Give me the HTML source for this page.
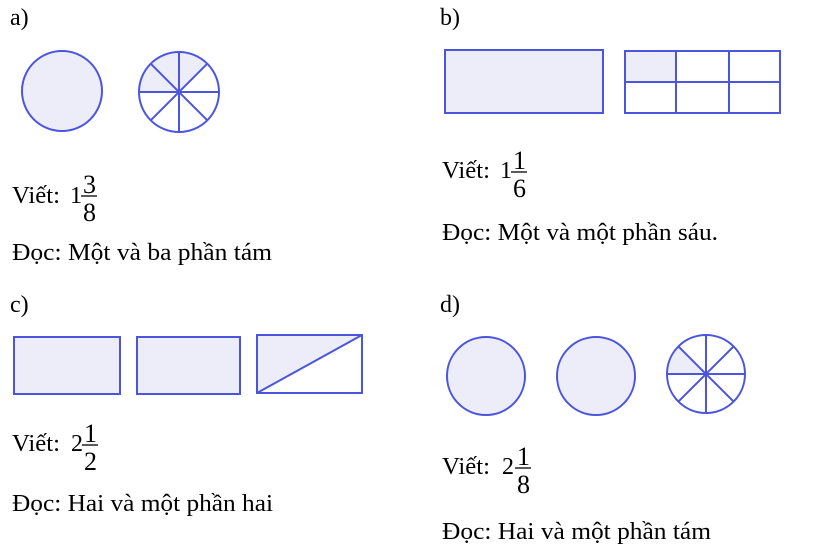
<!DOCTYPE html>
<html><head><meta charset="utf-8"><style>html,body{margin:0;padding:0;background:#fff}svg{display:block}text{font-family:"Liberation Serif",serif;font-size:24px;fill:#000}</style></head>
<body>
<svg width="840" height="551" viewBox="0 0 840 551" xmlns="http://www.w3.org/2000/svg">
<g stroke="#4b55de" stroke-width="2" fill="none">
<circle cx="62" cy="91" r="40" fill="#ededfa"/>
<path d="M179 92 L139 92 A40 40 0 0 1 207.3 63.7 Z" fill="#ededfa" stroke="none"/>
<circle cx="179" cy="92" r="40"/>
<line x1="139" y1="92" x2="219" y2="92"/><line x1="179" y1="52" x2="179" y2="132"/>
<line x1="150.7" y1="63.7" x2="207.3" y2="120.3"/><line x1="207.3" y1="63.7" x2="150.7" y2="120.3"/>
<rect x="445" y="50" width="158" height="63" fill="#ededfa"/>
<rect x="625" y="51" width="51" height="31" fill="#ededfa" stroke="none"/>
<rect x="625" y="51" width="155" height="62"/>
<line x1="676" y1="51" x2="676" y2="113"/><line x1="729" y1="51" x2="729" y2="113"/>
<line x1="625" y1="82" x2="780" y2="82"/>
<rect x="14" y="337" width="106" height="57" fill="#ededfa"/>
<rect x="137" y="337" width="103" height="57" fill="#ededfa"/>
<path d="M257 393 L257 335 L362 335 Z" fill="#ededfa" stroke="none"/>
<rect x="257" y="335" width="105" height="58"/>
<line x1="257" y1="393" x2="362" y2="335"/>
<circle cx="486" cy="376" r="39" fill="#ededfa"/>
<circle cx="596" cy="376" r="39" fill="#ededfa"/>
<path d="M706 374 L667 374 A39 39 0 0 1 678.4 346.4 Z" fill="#ededfa" stroke="none"/>
<circle cx="706" cy="374" r="39"/>
<line x1="667" y1="374" x2="745" y2="374"/><line x1="706" y1="335" x2="706" y2="413"/>
<line x1="678.4" y1="346.4" x2="733.6" y2="401.6"/><line x1="733.6" y1="346.4" x2="678.4" y2="401.6"/>
</g>
<g stroke="#000" stroke-width="1.3">
<line x1="81" y1="196" x2="97" y2="196"/>
<line x1="511" y1="172" x2="527" y2="172"/>
<line x1="82" y1="445" x2="98" y2="445"/>
<line x1="515" y1="468" x2="531" y2="468"/>
</g>
<text x="10" y="25">a)</text>
<text x="440" y="25">b)</text>
<text x="10" y="312">c)</text>
<text x="440" y="312">d)</text>
<text x="12" y="203" textLength="48" lengthAdjust="spacingAndGlyphs">Viết:</text><text x="70" y="203">1</text>
<text x="83" y="193" style="font-size:26px">3</text><text x="83" y="221" style="font-size:26px">8</text>
<text x="12" y="260" textLength="260" lengthAdjust="spacingAndGlyphs">Đọc: Một và ba phần tám</text>
<text x="442" y="178" textLength="48" lengthAdjust="spacingAndGlyphs">Viết:</text><text x="500" y="178">1</text>
<text x="513" y="169" style="font-size:26px">1</text><text x="513" y="197" style="font-size:26px">6</text>
<text x="442" y="240" textLength="276" lengthAdjust="spacingAndGlyphs">Đọc: Một và một phần sáu.</text>
<text x="12" y="451" textLength="48" lengthAdjust="spacingAndGlyphs">Viết:</text><text x="71" y="451">2</text>
<text x="84" y="442" style="font-size:26px">1</text><text x="84" y="470" style="font-size:26px">2</text>
<text x="12" y="511" textLength="261" lengthAdjust="spacingAndGlyphs">Đọc: Hai và một phần hai</text>
<text x="442" y="474" textLength="48" lengthAdjust="spacingAndGlyphs">Viết:</text><text x="502" y="474">2</text>
<text x="517" y="465" style="font-size:26px">1</text><text x="517" y="493" style="font-size:26px">8</text>
<text x="442" y="539" textLength="269" lengthAdjust="spacingAndGlyphs">Đọc: Hai và một phần tám</text>
</svg>
</body></html>
